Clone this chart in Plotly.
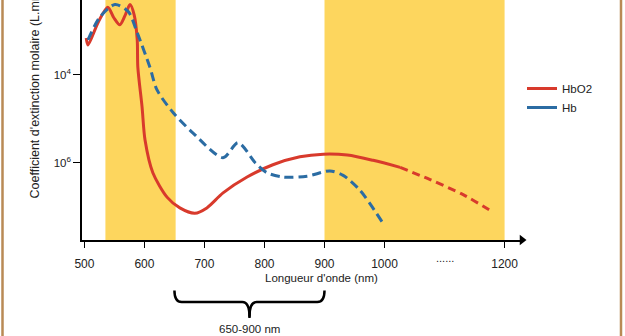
import plotly.graph_objects as go

# ---------------- data ----------------
hbo2_wl = [503, 506, 523, 539, 549, 559, 568, 576, 583, 588, 589, 596, 601, 614,
           638, 659, 684, 704, 731, 771, 814, 859, 898, 938, 981, 1026]
hbo2_val = [26300, 21900, 39800, 58900, 44700, 37200, 47900, 63100, 47900, 25100,
            12300, 4370, 1820, 776, 407, 309, 269, 309, 457, 692, 955, 1175, 1259,
            1230, 1072, 891]
hbo2_ext_wl = [1026, 1076, 1131, 1181]
hbo2_ext_val = [891, 646, 437, 275]

hb_wl = [506, 526, 551, 573, 588, 609, 621, 648, 681, 731, 756, 785, 804, 831,
         871, 909, 931, 959, 996]
hb_val = [25100, 45700, 63100, 52500, 30200, 12300, 6760, 3720, 2190, 1150, 1700,
          1000, 776, 692, 708, 813, 724, 490, 214]

bands = [(535, 652), (900, 1200)]
x_tickvals = [500, 600, 700, 800, 900, 1000, 1200]
x_ticktext = ["500", "600", "700", "800", "900", "1000", "1200"]
y_tickvals = [10000, 1000]
y_ticktext = ["10<sup>4</sup>", "10<sup>6</sup>"]
brace_range = (650, 900)
brace_label = "650-900 nm"

RED = "#d83a2c"
BLUE = "#2b6ca3"
YELLOW = "#fdd65e"
BORDER = "#b98a55"
FONT = "Liberation Sans"

X_RANGE = [496, 1229]

fig = go.Figure()

fig.add_trace(go.Scatter(x=hbo2_wl, y=hbo2_val, mode="lines", name="HbO2",
                         line=dict(color=RED, width=3, shape="spline", smoothing=0.8)))
fig.add_trace(go.Scatter(x=hb_wl, y=hb_val, mode="lines", name="Hb", showlegend=False,
                         line=dict(color=BLUE, width=3, dash="9px,5px",
                                   shape="spline", smoothing=0.8)))
fig.add_trace(go.Scatter(x=hbo2_ext_wl, y=hbo2_ext_val, mode="lines", showlegend=False,
                         line=dict(color=RED, width=3, dash="8px,5px",
                                   shape="spline", smoothing=0.8)))
# legend entry for Hb drawn solid, as in the reference legend
fig.add_trace(go.Scatter(x=[None], y=[None], mode="lines", name="Hb",
                         line=dict(color=BLUE, width=3)))
# axis arrow head
fig.add_trace(go.Scatter(x=[X_RANGE[1]], y=[10 ** 2.125], mode="markers", showlegend=False,
                         hoverinfo="skip", cliponaxis=False,
                         marker=dict(symbol="triangle-right", size=9, color="black")))

shapes = []
for a, b in bands:
    shapes.append(dict(type="rect", xref="x", yref="paper", x0=a, x1=b, y0=0, y1=1.05,
                       fillcolor=YELLOW, line=dict(width=0), layer="below"))

# brace under the axis
b0, b1 = brace_range
bm = (b0 + b1) / 2
path = (f"M {b0},-0.21 Q {b0},-0.258 {b0+12},-0.258 L {bm-12},-0.258 "
        f"Q {bm},-0.258 {bm},-0.32 Q {bm},-0.258 {bm+12},-0.258 "
        f"L {b1-12},-0.258 Q {b1},-0.258 {b1},-0.21")
shapes.append(dict(type="path", xref="x", yref="paper", path=path,
                   line=dict(color="black", width=2.5)))
shapes.append(dict(type="line", xref="x", yref="paper", x0=bm, x1=bm, y0=-0.28, y1=-0.325,
                   line=dict(color="black", width=2.5)))

# frame borders
for px in (2.5, 621):
    xp = (px - 82) / 440
    shapes.append(dict(type="line", xref="paper", yref="paper", x0=xp, x1=xp,
                       y0=-0.5, y1=1.1, line=dict(color=BORDER, width=2.5)))

annotations = [
    dict(text="Longueur d'onde (nm)", xref="paper", yref="paper",
         x=(321 - 82) / 440, y=(240 - 278) / 240, showarrow=False,
         font=dict(family=FONT, size=11.5, color="#222"), xanchor="center", yanchor="middle"),
    dict(text="......", xref="x", yref="paper", x=1100, y=(240 - 258) / 240,
         showarrow=False, font=dict(family=FONT, size=11, color="#222"),
         xanchor="center", yanchor="middle"),
    dict(text=brace_label, xref="x", yref="paper", x=bm, y=(240 - 329) / 240,
         showarrow=False, font=dict(family=FONT, size=11.5, color="#222"),
         xanchor="center", yanchor="middle"),
    dict(text="Coefficient d'extinction molaire (L.mmol<sup>-1</sup>.cm<sup>-1</sup>)",
         xref="paper", yref="paper", x=(33 - 82) / 440, y=(240 - 201) / 240,
         textangle=-90, showarrow=False, font=dict(family=FONT, size=12.5, color="#222"),
         xanchor="center", yanchor="bottom"),
]

fig.update_layout(
    width=625, height=336,
    margin=dict(l=82, r=103, t=0, b=96),
    paper_bgcolor="white", plot_bgcolor="white",
    shapes=shapes, annotations=annotations,
    font=dict(family=FONT, size=11, color="#222"),
    legend=dict(x=(522 - 82) / 440, y=(240 - 74) / 240, xanchor="left", yanchor="top",
                font=dict(family=FONT, size=11.5, color="#222"), bgcolor="rgba(0,0,0,0)",
                tracegroupgap=0, itemwidth=30),
    xaxis=dict(range=X_RANGE, showgrid=False, zeroline=False, showline=True,
               linecolor="black", linewidth=1.5, ticks="outside", ticklen=6,
               tickcolor="black", tickvals=x_tickvals, ticktext=x_ticktext,
               ticklabelstandoff=6, tickfont=dict(family=FONT, size=12, color="#222")),
    yaxis=dict(type="log", range=[2.125, 4.852], showgrid=False, zeroline=False,
               showline=True, linecolor="black", linewidth=1.5, ticks="outside",
               ticklen=7, tickcolor="black", tickvals=y_tickvals, ticktext=y_ticktext,
               tickfont=dict(family=FONT, size=11.5, color="#222")),
)

fig.write_html("out.html")
